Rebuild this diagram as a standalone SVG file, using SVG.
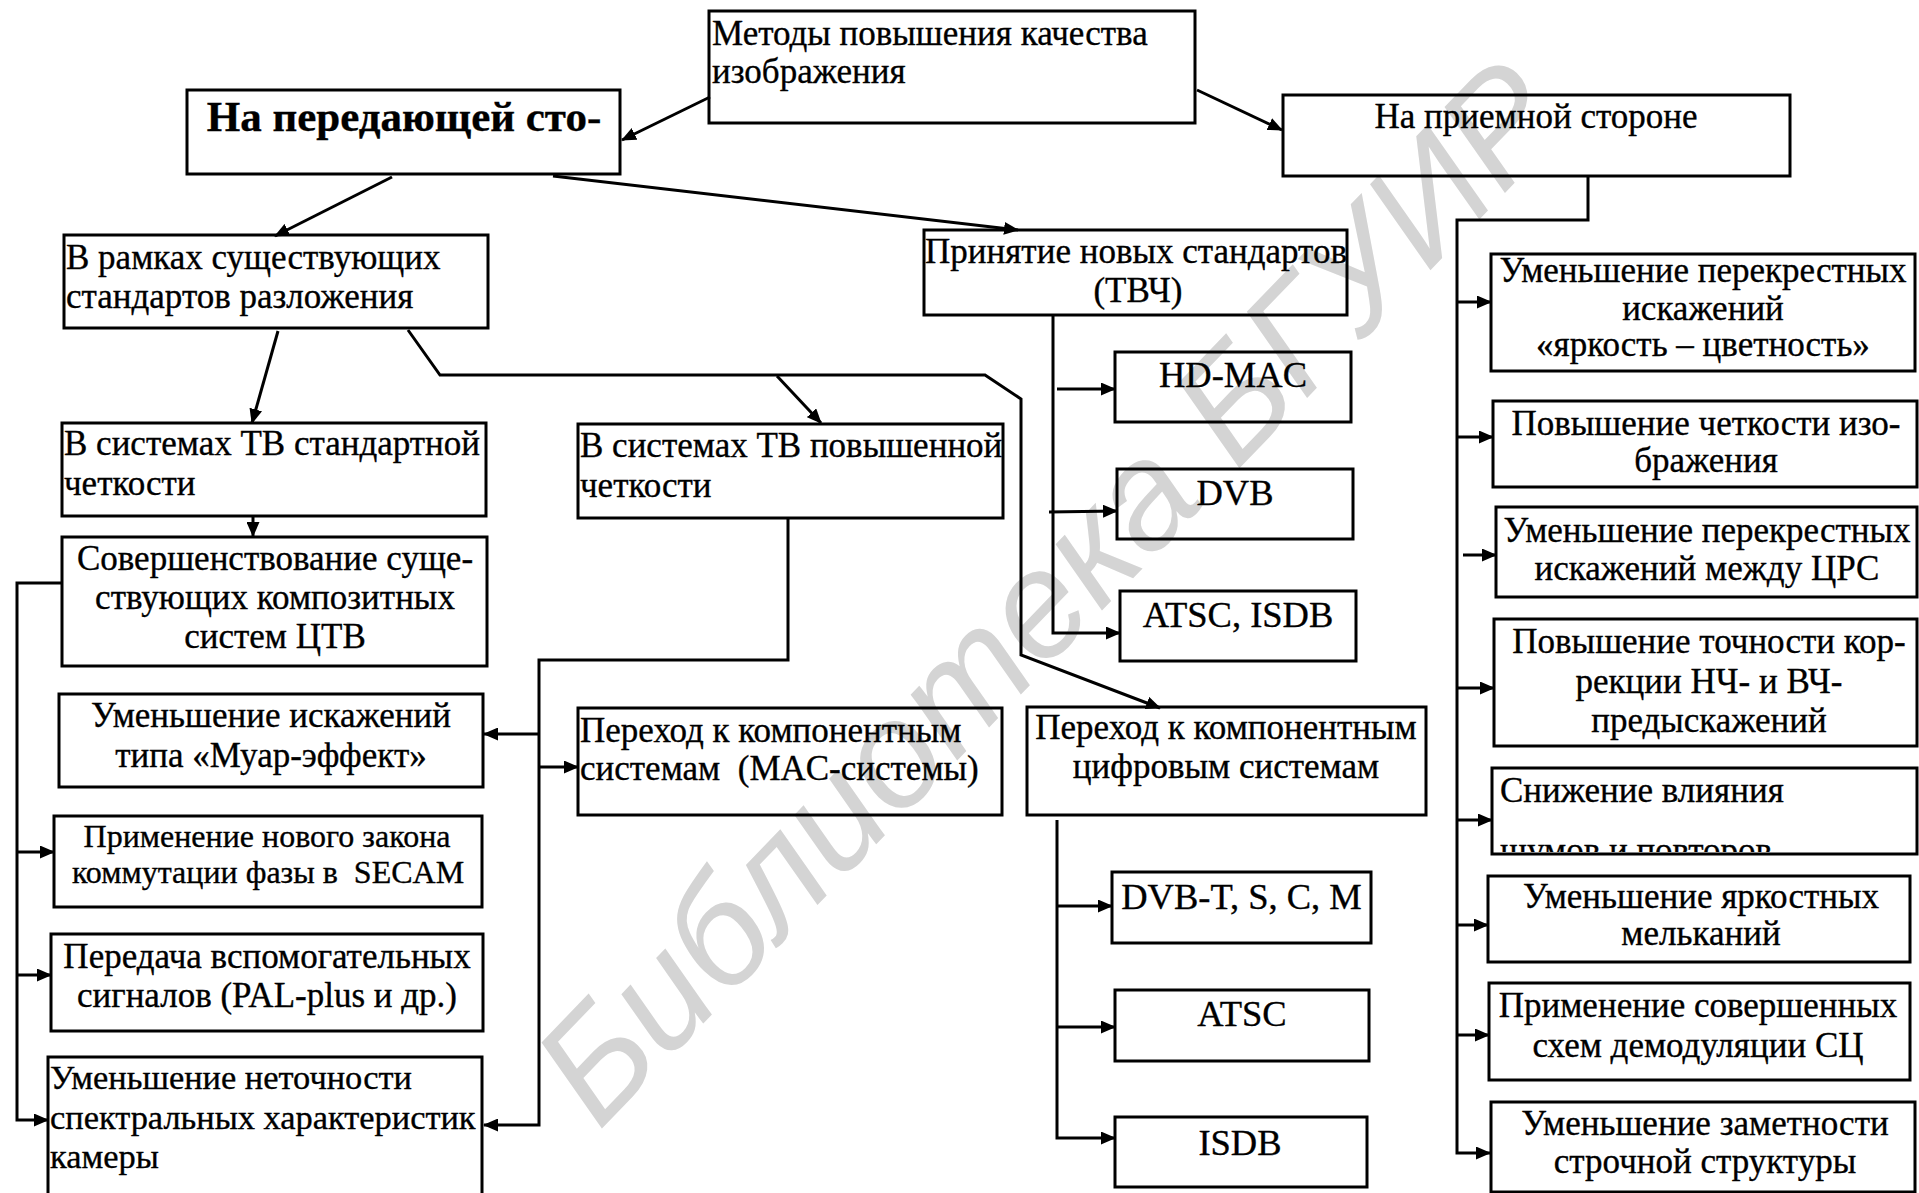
<svg xmlns="http://www.w3.org/2000/svg" width="1919" height="1193" viewBox="0 0 1919 1193">
<style>
.b{fill:none;stroke:#000;stroke-width:3}
.t{font-family:'Liberation Serif','Times New Roman',serif;font-size:35px;fill:#000;stroke:#000;stroke-width:0.35px}
.c{text-anchor:middle}
.s{font-size:32px}
.k{font-size:36.5px}
.m{font-size:34.4px}
.w{font-family:'Liberation Sans',Arial,sans-serif;font-style:italic;font-size:150px;fill:#d4d4d4}
.ln{fill:none;stroke:#000;stroke-width:3;stroke-linejoin:miter}
</style>
<defs>
<marker id="ah" markerUnits="userSpaceOnUse" markerWidth="15" markerHeight="13" viewBox="0 0 15 13" refX="14" refY="6.5" orient="auto">
<path d="M0,0 L15,6.5 L0,13 z" fill="#000"/>
</marker>
<clipPath id="clipNoise"><rect x="1492" y="768" width="426" height="84"/></clipPath>
</defs>
<rect width="1919" height="1193" fill="#fff"/>
<g id="watermark">
<text class="w" text-anchor="middle" transform="translate(1085,628) rotate(-46)">Библиотека БГУИР</text>
</g>

<g id="connectors">
<line class="ln" x1="710" y1="97" x2="622" y2="140" marker-end="url(#ah)"/>
<line class="ln" x1="1197" y1="90" x2="1282" y2="130" marker-end="url(#ah)"/>
<line class="ln" x1="392" y1="177" x2="275" y2="236" marker-end="url(#ah)"/>
<line class="ln" x1="553" y1="176" x2="1018" y2="230" marker-end="url(#ah)"/>
<line class="ln" x1="278" y1="331" x2="252" y2="423" marker-end="url(#ah)"/>
<polyline class="ln" points="408,330 440,375 985,375 1021,399 1021,655 1160,708" marker-end="url(#ah)"/>
<line class="ln" x1="777" y1="376" x2="821" y2="423" marker-end="url(#ah)"/>
<line class="ln" x1="253" y1="517" x2="253" y2="536" marker-end="url(#ah)"/>
<polyline class="ln" points="62,583 17,583 17,1120 48,1120" marker-end="url(#ah)"/>
<line class="ln" x1="17" y1="852" x2="54" y2="852" marker-end="url(#ah)"/>
<line class="ln" x1="17" y1="975" x2="51" y2="975" marker-end="url(#ah)"/>
<polyline class="ln" points="788,519 788,660 539,660 539,1125 484,1125" marker-end="url(#ah)"/>
<line class="ln" x1="539" y1="734" x2="484" y2="734" marker-end="url(#ah)"/>
<line class="ln" x1="539" y1="767" x2="578" y2="767" marker-end="url(#ah)"/>
<polyline class="ln" points="1053,316 1053,633 1120,633" marker-end="url(#ah)"/>
<line class="ln" x1="1057" y1="389" x2="1115" y2="389" marker-end="url(#ah)"/>
<line class="ln" x1="1049" y1="512" x2="1117" y2="511" marker-end="url(#ah)"/>
<polyline class="ln" points="1057,820 1057,1138 1115,1138" marker-end="url(#ah)"/>
<line class="ln" x1="1057" y1="906" x2="1112" y2="906" marker-end="url(#ah)"/>
<line class="ln" x1="1057" y1="1027" x2="1115" y2="1027" marker-end="url(#ah)"/>
<polyline class="ln" points="1588,176 1588,220 1457,220 1457,1153 1490,1153" marker-end="url(#ah)"/>
<line class="ln" x1="1457" y1="302" x2="1491" y2="302" marker-end="url(#ah)"/>
<line class="ln" x1="1457" y1="437" x2="1493" y2="437" marker-end="url(#ah)"/>
<line class="ln" x1="1463" y1="555" x2="1496" y2="555" marker-end="url(#ah)"/>
<line class="ln" x1="1457" y1="688" x2="1494" y2="688" marker-end="url(#ah)"/>
<line class="ln" x1="1457" y1="820" x2="1492" y2="820" marker-end="url(#ah)"/>
<line class="ln" x1="1457" y1="925" x2="1488" y2="925" marker-end="url(#ah)"/>
<line class="ln" x1="1457" y1="1035" x2="1489" y2="1035" marker-end="url(#ah)"/>
</g>

<g id="n-root">
<rect class="b" x="709" y="11" width="486" height="112"/>
<text class="t" x="712" y="45">Методы повышения качества</text>
<text class="t" x="712" y="83">изображения</text>
</g>
<g id="n-tx">
<rect class="b" x="187" y="90" width="433" height="84"/>
<text class="t c" x="404" y="131" style="font-size:43px;font-weight:bold">На передающей сто-</text>
</g>
<g id="n-rx">
<rect class="b" x="1283" y="95" width="507" height="81"/>
<text class="t c" x="1536" y="128">На приемной стороне</text>
</g>
<g id="n-existing">
<rect class="b" x="64" y="235" width="424" height="93"/>
<text class="t" x="66" y="269">В рамках существующих</text>
<text class="t" x="66" y="308">стандартов разложения</text>
</g>
<g id="n-new">
<rect class="b" x="924" y="230" width="423" height="85"/>
<text class="t c" x="1136" y="263">Принятие новых стандартов</text>
<text class="t c" x="1138" y="302">(ТВЧ)</text>
</g>
<g id="n-sd">
<rect class="b" x="62" y="423" width="424" height="93"/>
<text class="t" x="64" y="455">В системах ТВ стандартной</text>
<text class="t" x="64" y="495">четкости</text>
</g>
<g id="n-ed">
<rect class="b" x="578" y="424" width="425" height="94"/>
<text class="t" x="580" y="457">В системах ТВ повышенной</text>
<text class="t" x="580" y="497">четкости</text>
</g>
<g id="n-improve">
<rect class="b" x="62" y="537" width="425" height="129"/>
<text class="t c" x="275" y="570">Совершенствование суще-</text>
<text class="t c" x="275" y="609">ствующих композитных</text>
<text class="t c" x="275" y="648">систем ЦТВ</text>
</g>
<g id="n-moire">
<rect class="b" x="59" y="694" width="424" height="93"/>
<text class="t c" x="271" y="727">Уменьшение искажений</text>
<text class="t c" x="271" y="767">типа «Муар-эффект»</text>
</g>
<g id="n-secam">
<rect class="b" x="54" y="816" width="428" height="91"/>
<text class="t c s" x="267" y="847">Применение нового закона</text>
<text class="t c s" x="268" y="883" xml:space="preserve">коммутации фазы в  SECAM</text>
</g>
<g id="n-pal">
<rect class="b" x="51" y="934" width="432" height="97"/>
<text class="t c" x="267" y="968">Передача вспомогательных</text>
<text class="t c" x="267" y="1007">сигналов (PAL-plus и др.)</text>
</g>
<g id="n-camera">
<rect class="b" x="48" y="1057" width="434" height="150"/>
<text class="t m" x="50" y="1089">Уменьшение неточности</text>
<text class="t m" x="50" y="1129">спектральных характеристик</text>
<text class="t m" x="50" y="1168">камеры</text>
</g>
<g id="n-mac">
<rect class="b" x="578" y="708" width="424" height="107"/>
<text class="t" x="580" y="742">Переход к компонентным</text>
<text class="t" x="580" y="780" xml:space="preserve">системам  (MAC-системы)</text>
</g>
<g id="n-digital">
<rect class="b" x="1027" y="707" width="399" height="108"/>
<text class="t c" x="1226" y="739">Переход к компонентным</text>
<text class="t c" x="1226" y="778">цифровым системам</text>
</g>
<g id="n-hdmac">
<rect class="b" x="1115" y="352" width="236" height="70"/>
<text class="t c k" x="1233" y="387">HD-MAC</text>
</g>
<g id="n-dvb">
<rect class="b" x="1117" y="469" width="236" height="70"/>
<text class="t c k" x="1235" y="505">DVB</text>
</g>
<g id="n-atsc-isdb">
<rect class="b" x="1120" y="591" width="236" height="70"/>
<text class="t c k" x="1238" y="627">ATSC, ISDB</text>
</g>
<g id="n-dvbtscm">
<rect class="b" x="1112" y="872" width="259" height="71"/>
<text class="t c k" x="1241.5" y="909">DVB-T, S, C, M</text>
</g>
<g id="n-atsc">
<rect class="b" x="1115" y="990" width="254" height="71"/>
<text class="t c k" x="1242" y="1026">ATSC</text>
</g>
<g id="n-isdb">
<rect class="b" x="1115" y="1117" width="252" height="70"/>
<text class="t c k" x="1240" y="1155">ISDB</text>
</g>
<g id="n-r1">
<rect class="b" x="1491" y="254" width="424" height="117"/>
<text class="t c" x="1703" y="282">Уменьшение перекрестных</text>
<text class="t c" x="1703" y="320">искажений</text>
<text class="t c" x="1703" y="356">«яркость – цветность»</text>
</g>
<g id="n-r2">
<rect class="b" x="1493" y="401" width="424" height="86"/>
<text class="t c" x="1706" y="435">Повышение четкости изо-</text>
<text class="t c" x="1706" y="472">бражения</text>
</g>
<g id="n-r3">
<rect class="b" x="1496" y="507" width="421" height="90"/>
<text class="t c" x="1707" y="542">Уменьшение перекрестных</text>
<text class="t c" x="1707" y="580">искажений между ЦРС</text>
</g>
<g id="n-r4">
<rect class="b" x="1494" y="619" width="423" height="127"/>
<text class="t c" x="1709" y="653">Повышение точности кор-</text>
<text class="t c" x="1709" y="693">рекции НЧ- и ВЧ-</text>
<text class="t c" x="1709" y="732">предыскажений</text>
</g>
<g id="n-r5">
<rect class="b" x="1492" y="768" width="425" height="86"/>
<g clip-path="url(#clipNoise)">
<text class="t" x="1500" y="802">Снижение влияния</text>
<text class="t" x="1500" y="862">шумов и повторов</text>
</g>
</g>
<g id="n-r6">
<rect class="b" x="1488" y="876" width="422" height="86"/>
<text class="t c" x="1701" y="908">Уменьшение яркостных</text>
<text class="t c" x="1701" y="945">мельканий</text>
</g>
<g id="n-r7">
<rect class="b" x="1489" y="983" width="421" height="97"/>
<text class="t c" x="1698" y="1017">Применение совершенных</text>
<text class="t c" x="1698" y="1057">схем демодуляции СЦ</text>
</g>
<g id="n-r8">
<rect class="b" x="1491" y="1102" width="424" height="90"/>
<text class="t c" x="1705" y="1135">Уменьшение заметности</text>
<text class="t c" x="1705" y="1173">строчной структуры</text>
</g>
</svg>
